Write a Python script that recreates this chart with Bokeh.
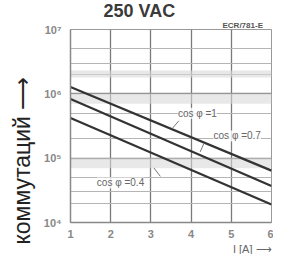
from bokeh.plotting import figure
from bokeh.models import (Range1d, Label, Arrow, FixedTicker, Grid,
                          BoxAnnotation, Title)
from bokeh.embed import file_html
from bokeh.resources import INLINE

# ---- data ----
current_a = [1, 6]
cos_1 = [1.28e6, 6.4e4]
cos_07 = [8.3e5, 3.7e4]
cos_04 = [4.2e5, 1.9e4]
x_ticks = [1, 2, 3, 4, 5, 6]
y_ticks = [1e4, 1e5, 1e6, 1e7]
y_tick_labels = ["10⁴", "10⁵", "10⁶", "10⁷"]
minor_y = [2e4, 3e4, 5e4, 2e5, 5e5, 2e6, 3e6, 5e6]
series_labels = ["cos φ =1", "cos φ =0.7", "cos φ =0.4"]
title_text = "250 VAC"
code_text = "ECR/781-E"
x_title = "I [A] ⟶"
y_title = "коммутаций ⟶"

W, H = 273, 254
FL, FR, FT, FB = 70, 271, 29, 229


def dx(px):  # reference-pixel x -> data x
    return 1 + (px - 70) / 43.4


def dy(py):  # reference-pixel y -> data y (log)
    return 10 ** (7 - (py - 29) / 68.33)


p = figure(width=W, height=H, output_backend="svg", toolbar_location=None,
           x_range=Range1d(1, 6), y_range=Range1d(1e4, 1e7), y_axis_type="log",
           min_border_left=FL, min_border_right=W - FR, min_border_top=FT,
           min_border_bottom=H - FB)
p.outline_line_color = "#999999"
p.background_fill_color = "white"
p.border_fill_color = "white"

# grids
p.xgrid.ticker = FixedTicker(ticks=[2, 3, 4, 5])
p.xgrid.grid_line_color = "#7a7a7a"
p.xgrid.grid_line_width = 1.3
p.ygrid.ticker = FixedTicker(ticks=y_ticks)
p.ygrid.grid_line_color = "#8a8a8a"
p.ygrid.grid_line_width = 1.3
p.add_layout(Grid(dimension=1, ticker=FixedTicker(ticks=minor_y),
                  grid_line_color="#b5b5b5", grid_line_width=1))

for lo, hi in [(7e5, 1e6), (7e4, 1e5), (1.8e6, 2.3e6)]:
    p.add_layout(BoxAnnotation(bottom=lo, top=hi, fill_color="#d8d8d8",
                               fill_alpha=0.6, line_alpha=0, level="underlay"))

# axes
for ax in (p.xaxis, p.yaxis):
    ax.major_tick_line_color = None
    ax.minor_tick_line_color = None
    ax.axis_line_color = "#888888"
    ax.axis_line_width = 1.5
    ax.major_label_text_color = "#888888"
    ax.major_label_text_font = "Liberation Sans"
    ax.major_label_text_font_style = "bold"
    ax.major_label_text_font_size = "11px"
p.xaxis.ticker = FixedTicker(ticks=x_ticks)
p.xaxis.major_label_standoff = 1
p.yaxis.ticker = FixedTicker(ticks=y_ticks)
p.yaxis.major_label_overrides = {t: l for t, l in zip(y_ticks, y_tick_labels)}
p.yaxis.major_label_standoff = 3

# curves
for ys in (cos_1, cos_07, cos_04):
    p.line(current_a, ys, line_color="#333333", line_width=2.2)

# curve labels
lab_pos = [(207, 118), (250, 142), (124, 192)]
for txt, (lx, ly) in zip(series_labels, lab_pos):
    p.add_layout(Label(x=dx(lx), y=dy(ly), text=txt, text_align="center",
                       text_baseline="middle", text_font="Liberation Sans",
                       text_font_size="10px", text_color="#666666",
                       background_fill_color="white", background_fill_alpha=0.8))
leaders = [((187, 126), (180, 134)), ((214, 150), (210, 159)), ((167, 185), (160, 176))]
for (x0, y0), (x1, y1) in leaders:
    p.add_layout(Arrow(end=None, x_start=dx(x0), y_start=dy(y0), x_end=dx(x1),
                       y_end=dy(y1), line_color="#777777", line_width=1))

# titles (side panels, so they are not clipped)
p.add_layout(Title(text=code_text, align="left", offset=152, standoff=0,
                   text_font="Liberation Sans", text_font_style="bold",
                   text_font_size="8px", text_color="#555555",
                   text_line_height=0.9), "above")
p.add_layout(Title(text=title_text, align="left", offset=33, standoff=-4,
                   text_font="Liberation Sans", text_font_style="bold",
                   text_font_size="18px", text_color="#3a3a3a",
                   text_line_height=0.9), "above")
p.add_layout(Title(text=x_title, align="right", offset=0, standoff=0,
                   text_font="Liberation Sans", text_font_style="normal",
                   text_font_size="11px", text_color="#666666",
                   text_line_height=0.9), "below")
p.add_layout(Title(text=y_title, align="left", offset=-22, standoff=12,
                   text_font="Liberation Sans", text_font_style="normal",
                   text_font_size="23px", text_color="#222222",
                   text_line_height=0.75), "left")

open("out.html", "w").write(file_html(p, INLINE))
